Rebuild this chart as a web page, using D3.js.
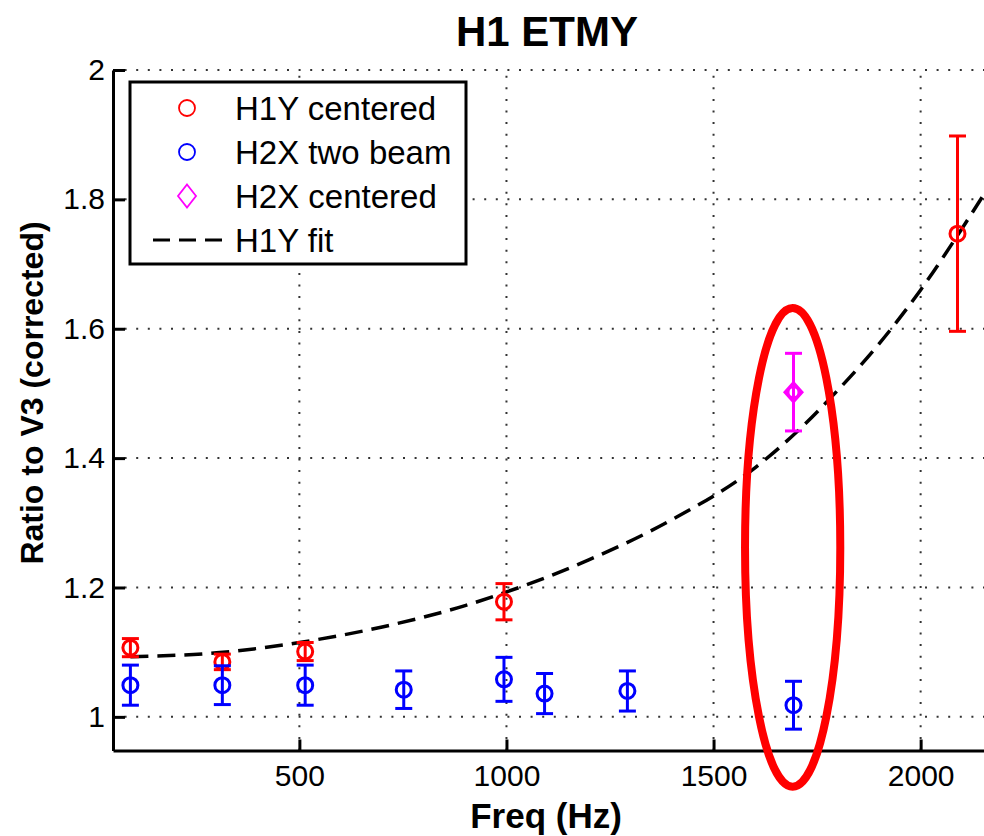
<!DOCTYPE html>
<html>
<head>
<meta charset="utf-8">
<script src="https://cdn.jsdelivr.net/npm/d3@7"></script>
<style>
  body { margin: 0; background: #fff; }
  svg { display: block; font-family: "Liberation Sans", Arial, sans-serif; }
  .axis path, .axis line { stroke: #000; stroke-width: 3; }
  .axis text { font-size: 30px; fill: #000; }
  .grid line { stroke: #333; stroke-width: 2; stroke-dasharray: 2 9.6; }
</style>
</head>
<body>
<div id="chart"></div>
<script>
// H1Y centered
const h1yFreq = [92, 314, 514, 994, 2089];
const h1yRatio = [1.107, 1.085, 1.101, 1.178, 1.747];
const h1yErr = [0.014, 0.012, 0.014, 0.028, 0.151];

// H2X two beam
const h2xFreq = [92, 314, 514, 752, 994, 1092, 1292, 1693];
const h2xRatio = [1.049, 1.049, 1.049, 1.042, 1.058, 1.036, 1.040, 1.018];
const h2xErr = [0.031, 0.030, 0.031, 0.029, 0.034, 0.031, 0.031, 0.037];

// H2X centered
const h2xcFreq = [1693];
const h2xcRatio = [1.502];
const h2xcErr = [0.060];

// H1Y fit
const fitFreq = [92, 300, 500, 700, 900, 1000, 1200, 1400, 1600, 1700, 1800, 1900, 2000, 2100, 2153];
const fitRatio = [1.093, 1.099, 1.115, 1.139, 1.172, 1.193, 1.243, 1.305, 1.385, 1.44, 1.505, 1.577, 1.66, 1.755, 1.808];

const xTicks = [500, 1000, 1500, 2000];
const yTicks = [1, 1.2, 1.4, 1.6, 1.8, 2];

// highlight ellipse around 1693 Hz, in data units
const ringCenter = [1691, 1.262];
const ringRadius = [115, 0.37];

const width = 984, height = 836;
const margin = { top: 70, right: 0, bottom: 85.5, left: 113 };

const series = [
  { name: "H1Y centered", color: "#ff0000", shape: "circle", freq: h1yFreq, ratio: h1yRatio, err: h1yErr },
  { name: "H2X two beam", color: "#0000ff", shape: "circle", freq: h2xFreq, ratio: h2xRatio, err: h2xErr },
  { name: "H2X centered", color: "#ff00ff", shape: "diamond", freq: h2xcFreq, ratio: h2xcRatio, err: h2xcErr },
];

const x = d3.scaleLinear().domain([50, 2153]).range([margin.left, width - margin.right]);
const y = d3.scaleLinear().domain([0.948, 2]).range([height - margin.bottom, margin.top]);

const svg = d3.select("#chart").append("svg")
  .attr("width", width)
  .attr("height", height);

// grid
const grid = svg.append("g").attr("class", "grid");
grid.selectAll(".gx").data(xTicks).join("line")
  .attr("x1", (d) => x(d)).attr("x2", (d) => x(d))
  .attr("y1", y.range()[0]).attr("y2", y.range()[1]);
grid.selectAll(".gy").data(yTicks).join("line")
  .attr("x1", x.range()[0]).attr("x2", x.range()[1])
  .attr("y1", (d) => y(d)).attr("y2", (d) => y(d));

// fit
svg.append("path")
  .datum(fitFreq.map((f, i) => [f, fitRatio[i]]))
  .attr("fill", "none")
  .attr("stroke", "#000")
  .attr("stroke-width", 3.5)
  .attr("stroke-dasharray", "18 9")
  .attr("d", d3.line().x((d) => x(d[0])).y((d) => y(d[1])).curve(d3.curveMonotoneX));

const diamond = (cx, cy, w, h) =>
  `M${cx},${cy - h}L${cx + w},${cy}L${cx},${cy + h}L${cx - w},${cy}Z`;

// error bars + markers
series.forEach((s) => {
  const pts = s.freq.map((f, i) => ({ f, r: s.ratio[i], e: s.err[i] }));
  const g = svg.append("g")
    .attr("stroke", s.color)
    .attr("stroke-width", 3)
    .attr("fill", "none");
  const bar = g.selectAll("g").data(pts).join("g");
  bar.append("line")
    .attr("x1", (d) => x(d.f)).attr("x2", (d) => x(d.f))
    .attr("y1", (d) => y(d.r - d.e)).attr("y2", (d) => y(d.r + d.e));
  bar.selectAll(".cap").data((d) => [d.r - d.e, d.r + d.e].map((v) => ({ f: d.f, v })))
    .join("line")
    .attr("x1", (d) => x(d.f) - 8.5).attr("x2", (d) => x(d.f) + 8.5)
    .attr("y1", (d) => y(d.v)).attr("y2", (d) => y(d.v));
  if (s.shape === "circle") {
    bar.append("circle")
      .attr("cx", (d) => x(d.f)).attr("cy", (d) => y(d.r))
      .attr("r", 7.5);
  } else {
    bar.append("path")
      .attr("d", (d) => diamond(x(d.f), y(d.r), 8.5, 9.5));
    bar.append("circle")
      .attr("cx", (d) => x(d.f)).attr("cy", (d) => y(d.r))
      .attr("r", 5.5);
  }
});

// axes
svg.append("g")
  .attr("class", "axis")
  .attr("transform", `translate(0,${y.range()[0]})`)
  .call(d3.axisBottom(x).tickValues(xTicks).tickFormat(d3.format("d"))
    .tickSizeInner(-11).tickSizeOuter(0).tickPadding(14))
  .call((g) => g.selectAll("text").attr("dy", "0.71em"));

svg.append("g")
  .attr("class", "axis")
  .attr("transform", `translate(${x.range()[0]},0)`)
  .call(d3.axisLeft(y).tickValues(yTicks)
    .tickFormat((d) => d3.format(".1f")(d).replace(/\.0$/, ""))
    .tickSizeInner(-12).tickSizeOuter(0).tickPadding(8));

// titles
svg.append("text")
  .attr("x", 547).attr("y", 46)
  .attr("text-anchor", "middle")
  .attr("font-size", 42).attr("font-weight", "bold")
  .text("H1 ETMY");

svg.append("text")
  .attr("x", 546).attr("y", 828)
  .attr("text-anchor", "middle")
  .attr("font-size", 35).attr("font-weight", "bold")
  .text("Freq (Hz)");

svg.append("text")
  .attr("transform", "translate(43,393) rotate(-90)")
  .attr("text-anchor", "middle")
  .attr("font-size", 32).attr("font-weight", "bold")
  .text("Ratio to V3 (corrected)");

// legend
const legend = svg.append("g").attr("transform", "translate(130,82)");
legend.append("rect")
  .attr("width", 336).attr("height", 182)
  .attr("fill", "#fff").attr("stroke", "#000").attr("stroke-width", 3);

const legendItems = [...series.map((s) => ({ name: s.name, color: s.color, shape: s.shape })),
  { name: "H1Y fit", color: "#000", shape: "dash" }];

const item = legend.selectAll(".item").data(legendItems).join("g")
  .attr("transform", (d, i) => `translate(0,${26 + i * 44})`);
item.append("text")
  .attr("x", 105).attr("y", 12)
  .attr("font-size", 33)
  .text((d) => d.name);
item.filter((d) => d.shape === "circle").append("circle")
  .attr("cx", 57).attr("r", 8)
  .attr("fill", "none").attr("stroke", (d) => d.color).attr("stroke-width", 1.8);
item.filter((d) => d.shape === "diamond").append("path")
  .attr("d", diamond(57, 0, 9, 11.5))
  .attr("fill", "none").attr("stroke", (d) => d.color).attr("stroke-width", 1.8);
item.filter((d) => d.shape === "dash").append("line")
  .attr("x1", 23).attr("x2", 100)
  .attr("stroke", "#000").attr("stroke-width", 3)
  .attr("stroke-dasharray", "17 9");

// highlight ring
svg.append("ellipse")
  .attr("cx", x(ringCenter[0]))
  .attr("cy", y(ringCenter[1]))
  .attr("rx", x(ringCenter[0] + ringRadius[0]) - x(ringCenter[0]))
  .attr("ry", y(ringCenter[1] - ringRadius[1]) - y(ringCenter[1]))
  .attr("fill", "none")
  .attr("stroke", "#ff0000")
  .attr("stroke-width", 8);
</script>
</body>
</html>
